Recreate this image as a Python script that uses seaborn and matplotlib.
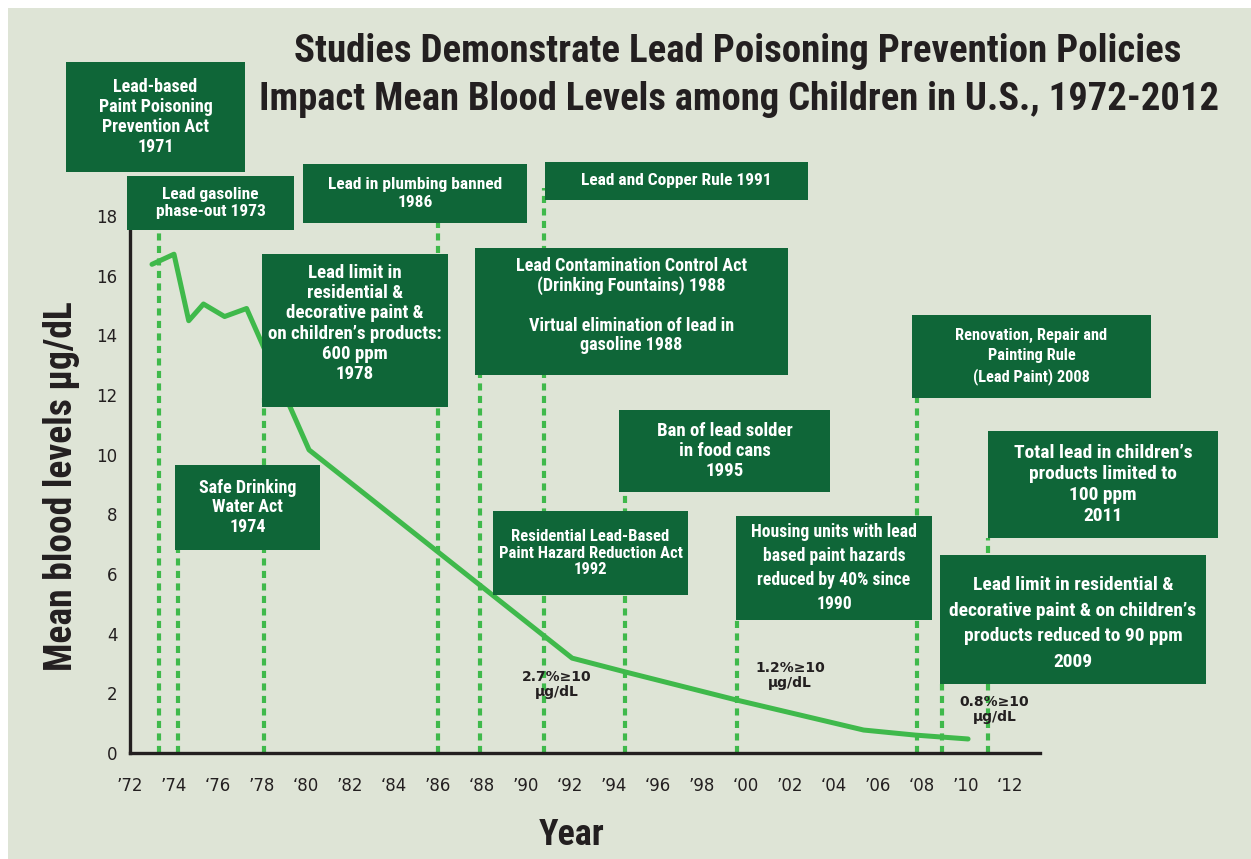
import matplotlib
matplotlib.use("Agg")
import matplotlib.pyplot as plt
from matplotlib.patches import Rectangle
from matplotlib import font_manager as fm
import seaborn as sns
import pandas as pd

# mean blood lead levels (ug/dL)
years = [1973.0, 1974.0, 1974.67, 1975.34, 1976.3, 1977.3, 1980.14, 1992.1,
         1994.5, 1999.55, 2005.35, 2007.7, 2010.1]
levels = [16.38, 16.72, 14.49, 15.05, 14.63, 14.9, 10.16, 3.18,
          2.72, 1.78, 0.77, 0.6, 0.47]

# dotted policy markers: year and how high the dotted line reaches
policy_years = [1973.3, 1974.2, 1978.1, 1986.0, 1987.9, 1990.8, 1994.5,
                1999.6, 2007.8, 2008.9, 2011.0]
policy_tops = [18.0, 6.9, 11.9, 17.8, 12.7, 18.95, 8.8, 4.5, 11.9, 2.3, 7.2]

tick_years = list(range(1972, 2013, 2))
tick_labels = ["\u201972", "\u201974", "\u201876", "\u201978", "\u201880", "\u201982",
               "\u201884", "\u201986", "\u201888", "\u201990", "\u201892", "\u201994",
               "\u201896", "\u201998", "\u201800", "\u201902", "\u201804", "\u201906",
               "\u201808", "\u201910", "\u201812"]

share_notes = ["2.7%\u226510\n\u00b5g/dL", "1.2%\u226510\n\u00b5g/dL", "0.8%\u226510\n\u00b5g/dL"]
share_years = [1991.4, 2002.0, 2011.3]
share_y = [2.3, 2.6, 1.45]

# policy boxes: pixel box (left, top, right, bottom), text, font size, line spacing, text shift (px)
boxes = [
    ((66, 62, 245, 172), "Lead-based\nPaint Poisoning\nPrevention Act\n1971", 13, 1.12, 0),
    ((127, 176, 294, 230), "Lead gasoline\nphase-out 1973", 12.5, 1.2, 0),
    ((303, 164, 527, 223), "Lead in plumbing banned\n1986", 12.5, 1.25, 0),
    ((545, 162, 808, 200), "Lead and Copper Rule 1991", 12.5, 1.0, 0),
    ((262, 254, 448, 407), "Lead limit in\nresidential &\ndecorative paint &\non children\u2019s products:\n600 ppm\n1978", 14, 1.17, -7),
    ((475, 248, 788, 375), "Lead Contamination Control Act\n(Drinking Fountains) 1988\n\nVirtual elimination of lead in\ngasoline 1988", 13.1, 1.12, -6),
    ((175, 465, 320, 550), "Safe Drinking\nWater Act\n1974", 13, 1.1, 0),
    ((619, 410, 830, 492), "Ban of lead solder\nin food cans\n1995", 13.5, 1.15, 0),
    ((493, 511, 688, 595), "Residential Lead-Based\nPaint Hazard Reduction Act\n1992", 12.5, 1.15, 0),
    ((736, 516, 932, 620), "Housing units with lead\nbased paint hazards\nreduced by 40% since\n1990", 12.7, 1.45, 0),
    ((912, 315, 1151, 398), "Renovation, Repair and\nPainting Rule\n(Lead Paint) 2008", 11.8, 1.42, 0),
    ((988, 431, 1218, 538), "Total lead in children\u2019s\nproducts limited to\n100 ppm\n2011", 14, 1.2, 0),
    ((940, 555, 1206, 684), "Lead limit in residential &\ndecorative paint & on children\u2019s\nproducts reduced to 90 ppm\n2009", 14, 1.55, 4),
]

PANEL = "#dee4d6"
BOX = "#0f6638"
LINE = "#3fb94b"
DARK = "#231f20"

sns.set_style("white")
plt.rcParams["font.family"] = ["DejaVu Sans"]

# pick a narrow bold face if one is installed, else a fairly narrow sans
NARROW, STRETCH = "Roboto", "normal"
_bold = [f for f in fm.fontManager.ttflist if str(f.weight) in ("700", "bold", "600")]
for want in ["Liberation Sans Narrow", "Roboto Condensed", "DejaVu Sans", "Noto Sans",
             "Open Sans", "Lato", "Inter"]:
    hits = [f for f in _bold if f.name == want and
            (want.endswith(("Narrow", "Condensed")) or "condensed" in str(f.stretch))]
    if hits:
        NARROW, STRETCH = hits[0].name, hits[0].stretch
        break
NARROW_KW = dict(family=[NARROW, "DejaVu Sans"], fontstretch=STRETCH, fontweight="bold")

W, H = 1251, 859
fig = plt.figure(figsize=(W / 100, H / 100), dpi=100, facecolor="white")


def fx(px):
    return px / W


def fy(py):
    return 1 - py / H


# panel background (thin white margin top/left)
fig.patches.append(Rectangle((fx(8), 0), 1 - fx(8), fy(8), transform=fig.transFigure,
                             facecolor=PANEL, edgecolor="none", zorder=-10))

ax = fig.add_axes([fx(130), fy(753), fx(1040) - fx(130), fy(216) - fy(753)])
ax.set_facecolor("none")

df = pd.DataFrame({"year": years, "level": levels})
sns.lineplot(data=df, x="year", y="level", ax=ax, color=LINE, lw=3.6, zorder=3)

for yr, top in zip(policy_years, policy_tops):
    ax.plot([yr, yr], [0, top], color=LINE, lw=3, ls=(0, (1.7, 1.3)),
            clip_on=False, zorder=2)

for txt, x, y in zip(share_notes, share_years, share_y):
    ax.text(x, y, txt, ha="center", va="center", fontsize=10, fontweight="bold",
            color=DARK, linespacing=1.05, zorder=4)

ax.set_xlim(1972.14, 2013.37)
ax.set_ylim(0, 18)
ax.set_xticks(tick_years)
ax.set_xticklabels(tick_labels)
ax.set_yticks(range(0, 19, 2))
ax.tick_params(axis="both", length=0, labelsize=12, colors=DARK)
ax.tick_params(axis="x", pad=17)
ax.tick_params(axis="y", pad=9)
ax.set_xlabel("")
ax.set_ylabel("")
for side in ["top", "right"]:
    ax.spines[side].set_visible(False)
for side in ["left", "bottom"]:
    ax.spines[side].set_color(DARK)
    ax.spines[side].set_linewidth(2.4)

renderer = fig.canvas.get_renderer()


def fit(t, max_w, vertical=False):
    bb = t.get_window_extent(renderer)
    size = bb.height if vertical else bb.width
    if size > max_w:
        t.set_fontsize(t.get_fontsize() * max_w / size)


# policy boxes drawn above the axes
for (l, t, r, b), txt, fs, ls, dy in boxes:
    fig.patches.append(Rectangle((fx(l), fy(b)), fx(r) - fx(l), fy(t) - fy(b),
                                 transform=fig.transFigure, facecolor=BOX,
                                 edgecolor="none", zorder=5))
    tx = fig.text(fx((l + r) / 2), fy((t + b) / 2 + dy), txt, ha="center", va="center",
                  multialignment="center", fontsize=fs, color="white",
                  linespacing=ls, zorder=6, **NARROW_KW)
    fit(tx, (r - l) - 12)

t1 = fig.text(fx(738), fy(62), "Studies Demonstrate Lead Poisoning Prevention Policies",
              ha="center", va="baseline", fontsize=28, color=DARK, **NARROW_KW)
t2 = fig.text(fx(739), fy(110), "Impact Mean Blood Levels among Children in U.S., 1972-2012",
              ha="center", va="baseline", fontsize=28, color=DARK, **NARROW_KW)
fit(t1, 890)
fit(t2, 962)
yl = fig.text(fx(62), fy(486), "Mean blood levels \u00b5g/dL", rotation=90, ha="center",
              va="center", fontsize=27, color=DARK, **NARROW_KW)
fit(yl, 382, vertical=True)
fig.text(fx(572), fy(845), "Year", ha="center", va="baseline", fontsize=26,
         color=DARK, **NARROW_KW)

fig.savefig("out.png", dpi=100, facecolor="white")
